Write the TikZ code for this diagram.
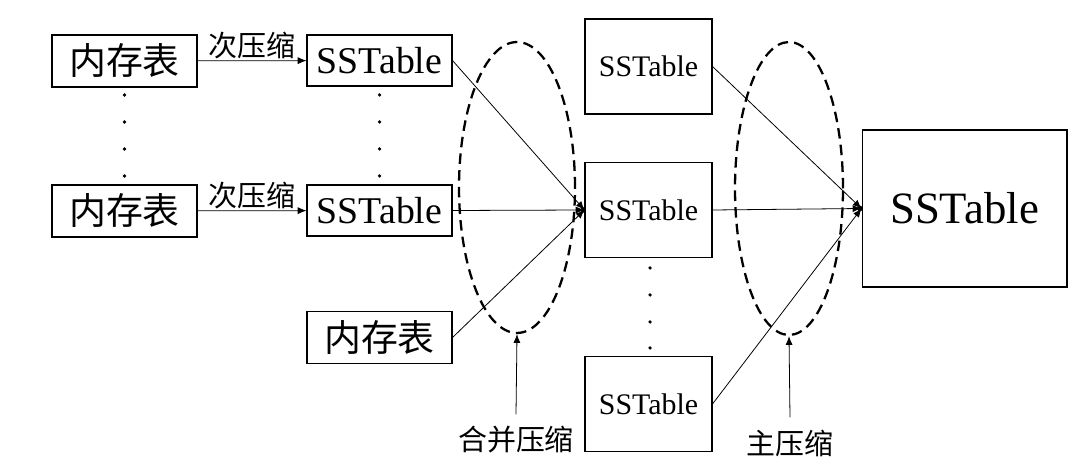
\documentclass[tikz,border=0pt]{standalone}
\usepackage{fontspec}
\setmainfont{Liberation Serif}
\newfontfamily\cjk{Noto Sans CJK SC}
\usetikzlibrary{arrows.meta,shapes.geometric}

\tikzset{
  memtab/.style={draw, line width=0.6pt, minimum width=2.9cm, minimum height=1.04cm, inner sep=0pt, font=\cjk\fontsize{21}{21}\selectfont},
  sstab/.style={draw, line width=0.6pt, minimum width=2.9cm, minimum height=1.02cm, inner sep=0pt, font=\fontsize{21.5}{21.5}\selectfont},
  midtab/.style={draw, line width=0.6pt, minimum width=2.54cm, minimum height=1.9cm, inner sep=0pt, font=\fontsize{17}{17}\selectfont},
  ring/.style={draw, ellipse, line width=1.3pt, dash pattern=on 6pt off 3.5pt, inner sep=0pt},
  merge/.style={-{Latex[length=5pt,width=4pt]}, line width=0.45pt},
  note/.style={font=\cjk\fontsize{16.5}{16.5}\selectfont}
}

\begin{document}
\begin{tikzpicture}[x=0.02cm, y=-0.02cm]
  \useasboundingbox (0,0) rectangle (1072,469);

  % left column
  \node[memtab] (mem1) at (124.5,61) {内存表};
  \node[memtab] (mem2) at (124.5,211) {内存表};
  \node[memtab] (mem3) at (379.5,337.5) {内存表};
  \node[sstab] (sst1) at (379.5,60.5) {SSTable};
  \node[sstab] (sst2) at (379.5,210.5) {SSTable};

  % middle column
  \node[midtab] (top) at (648.5,66.5) {SSTable};
  \node[midtab] (mid) at (648.5,210) {SSTable};
  \node[midtab] (bot) at (648.5,404) {SSTable};

  % result
  \node[draw, line width=0.6pt, minimum width=4.1cm, minimum height=3.14cm, inner sep=0pt,
        font=\fontsize{25.5}{25.5}\selectfont] (big) at (964.5,208.5) {SSTable};

  % dots
  \foreach \y in {95,122,149,176} {
    \fill (124.5,\y) circle (1pt);
    \fill (379.5,\y) circle (1pt);
  }
  \foreach \y in {268,295,322,348}
    \fill (650,\y) circle (1pt);

  % minor compaction
  \draw[merge] (mem1) -- node[note, above, inner sep=1pt] {次压缩} (sst1);
  \draw[merge] (mem2) -- node[note, above, inner sep=1pt] {次压缩} (sst2);

  % merge compaction
  \node[ring, minimum width=2.32cm, minimum height=5.82cm] (ring1) at (517,187.5) {};
  \draw[merge] (sst1.east) -- (mid.west);
  \draw[merge] (sst2.east) -- (mid.west);
  \draw[merge] (mem3.east) -- (mid.west);
  \fill (mid.west) ++(-1.5,0) circle (1.6pt);

  % major compaction
  \node[ring, minimum width=2.16cm, minimum height=5.86cm] (ring2) at (789,188.5) {};
  \draw[merge] (top.east) -- (big.west);
  \draw[merge] (mid.east) -- (big.west);
  \draw[merge] (bot.east) -- (big.west);
  \fill (big.west) ++(-1.5,0) circle (1.6pt);

  % labels
  \node[note] (mergelbl) at (516,440) {合并压缩};
  \node[note] (majorlbl) at (790,443) {主压缩};
  \draw[merge] (mergelbl.north) ++(0,-6) -- (ring1.south);
  \draw[merge] (majorlbl.north) ++(0,-6) -- (ring2.south);
\end{tikzpicture}
\end{document}
